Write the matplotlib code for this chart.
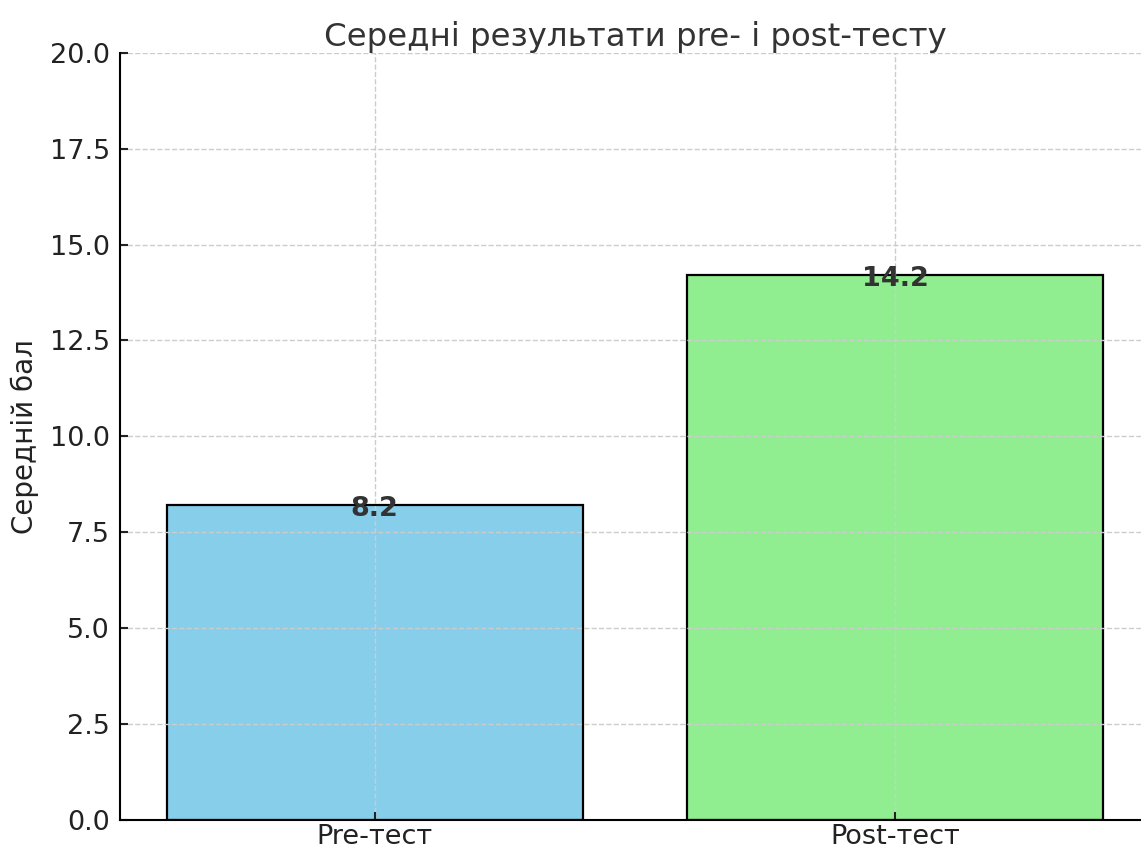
import matplotlib.pyplot as plt

groups = ["Pre-тест", "Post-тест"]
means = [8.2, 14.2]
colors = ["skyblue", "lightgreen"]

fig, ax = plt.subplots(figsize=(11.41, 8.52), dpi=100)

bars = ax.bar(groups, means, color=colors, edgecolor="black", linewidth=1.6, width=0.8)

for bar, val in zip(bars, means):
    ax.text(bar.get_x() + bar.get_width() / 2, val - 0.1, f"{val}",
            ha="center", va="center", fontsize=19.5, fontweight="bold", color="#333333")

ax.set_ylim(0, 20)
ax.set_title("Середні результати pre- і post-тесту", fontsize=23.3, color="#333333", pad=5)
ax.set_ylabel("Середній бал", fontsize=20, color="#222222", labelpad=8)
ax.tick_params(axis="both", labelsize=19.5, colors="#222222", width=1.5, length=6,
               direction="in", pad=7)
ax.tick_params(axis="x", pad=3)
ax.grid(True, linestyle="--", color="#cccccc", linewidth=1)
ax.spines["top"].set_visible(False)
ax.spines["right"].set_visible(False)
ax.spines["left"].set_linewidth(1.5)
ax.spines["bottom"].set_linewidth(1.5)

fig.subplots_adjust(left=0.105, right=1.008, top=0.938, bottom=0.038)
plt.savefig("out.png", dpi=100)
